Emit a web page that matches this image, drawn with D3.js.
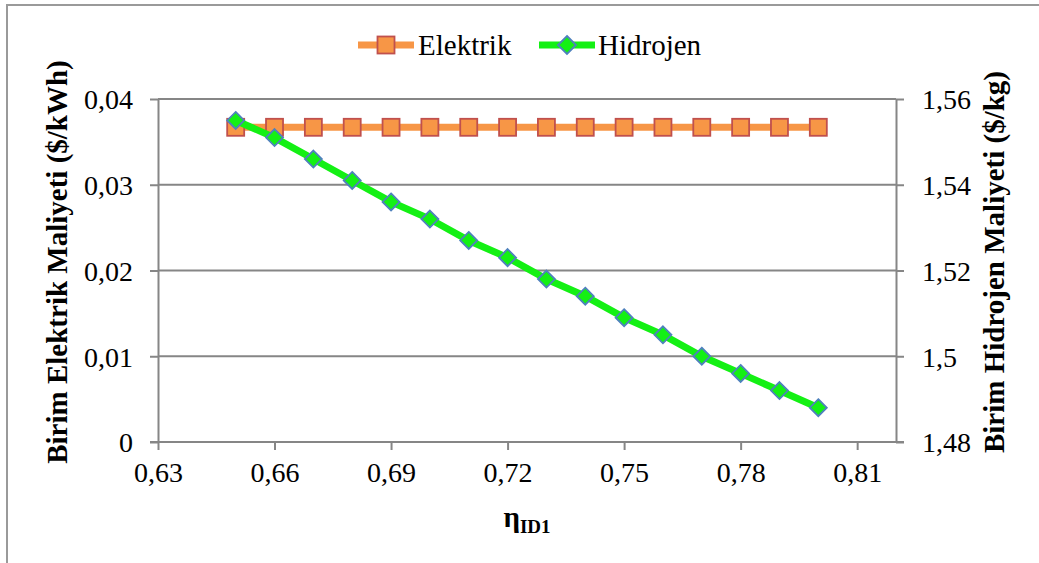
<!DOCTYPE html>
<html><head><meta charset="utf-8">
<script src="https://cdn.jsdelivr.net/npm/d3@7"></script>
<style>
body{margin:0;background:#fff;overflow:hidden}
svg text, svg tspan{font-family:"Liberation Serif" !important;}
</style>
</head><body>
<svg id="c" width="1039" height="563" style="font-family:'Liberation Serif'"></svg>
<script>
// ---- data ----
const xValues = [0.65,0.66,0.67,0.68,0.69,0.70,0.71,0.72,0.73,0.74,0.75,0.76,0.77,0.78,0.79,0.80];
const elektrik = [0.0367,0.0367,0.0367,0.0367,0.0367,0.0367,0.0367,0.0367,0.0367,0.0367,0.0367,0.0367,0.0367,0.0367,0.0367,0.0367];
const hidrojen = [1.555,1.551,1.546,1.541,1.536,1.532,1.527,1.523,1.518,1.514,1.509,1.505,1.500,1.496,1.492,1.488];
const xTicks = [0.63,0.66,0.69,0.72,0.75,0.78,0.81];
const yLeftTicks = [0,0.01,0.02,0.03,0.04];
const yRightTicks = [1.48,1.50,1.52,1.54,1.56];
const seriesNames = ["Elektrik","Hidrojen"];
const leftTitle = "Birim Elektrik Maliyeti ($/kWh)";
const rightTitle = "Birim Hidrojen Maliyeti ($/kg)";

// ---- setup ----
const svg = d3.select("#c");
const FONT = '"Liberation Serif"';
const gridCol = "#868686";
const loc = d3.formatLocale({decimal: ",", thousands: ".", grouping: [3], currency: ["", ""]});
const fmt = loc.format("~g");

const L = 158, R = 896, T = 99, B = 442;
const x = d3.scaleLinear().domain([0.63, 0.82]).range([L, R]);
const yL = d3.scaleLinear().domain([0, 0.04]).range([B, T]);
const yR = d3.scaleLinear().domain([1.48, 1.56]).range([B, T]);

// outer border
svg.append("rect").attr("x", 7).attr("y", 5).attr("width", 1200).attr("height", 800)
  .attr("fill", "#fff").attr("stroke", "#9a9a9a").attr("stroke-width", 2);

// gridlines
svg.append("g").selectAll("line").data(yLeftTicks.filter(d => d > 0)).join("line")
  .attr("x1", L).attr("x2", R).attr("y1", d => yL(d)).attr("y2", d => yL(d))
  .attr("stroke", gridCol).attr("stroke-width", 2);

function styleAxis(g) {
  g.attr("font-family", FONT).style("font-family", FONT);
  g.select(".domain").attr("stroke", gridCol).attr("stroke-width", 2);
  g.selectAll(".tick line").attr("stroke", gridCol).attr("stroke-width", 2);
  g.selectAll(".tick text").style("font-family", FONT).style("font-size", "28px").attr("fill", "#000");
}

// left axis
const gL = svg.append("g").attr("transform", `translate(${L},0)`)
  .call(d3.axisLeft(yL).tickValues(yLeftTicks).tickFormat(fmt).tickSize(8).tickSizeOuter(0).tickPadding(17));
styleAxis(gL);
gL.selectAll(".tick text").attr("dy", "0.35em");

// right axis
const gR = svg.append("g").attr("transform", `translate(${R},0)`)
  .call(d3.axisRight(yR).tickValues(yRightTicks).tickFormat(fmt).tickSize(8).tickSizeOuter(0).tickPadding(18));
styleAxis(gR);
gR.selectAll(".tick text").attr("dy", "0.35em");

// bottom axis
const gB = svg.append("g").attr("transform", `translate(0,${B})`)
  .call(d3.axisBottom(x).tickValues(xTicks).tickFormat(fmt).tickSize(8).tickSizeOuter(0).tickPadding(12));
styleAxis(gB);
gB.select(".domain").attr("d", `M${L - 8},0H${R + 8}`);
gB.selectAll(".tick text").attr("dy", "0.71em");

// axis titles
svg.append("text").attr("transform", `translate(57,262) rotate(-90)`)
  .attr("text-anchor", "middle").attr("dominant-baseline", "central")
  .style("font-family", FONT).style("font-weight", "bold").style("font-size", "29px").text(leftTitle);
svg.append("text").attr("transform", `translate(994,262) rotate(-90)`)
  .attr("text-anchor", "middle").attr("dominant-baseline", "central")
  .style("font-family", FONT).style("font-weight", "bold").style("font-size", "29px").text(rightTitle);

const xt = svg.append("text").attr("x", (L + R) / 2).attr("y", 527).attr("text-anchor", "middle")
  .style("font-family", FONT).style("font-weight", "bold").style("font-size", "29px");
xt.append("tspan").text("η");
xt.append("tspan").style("font-size", "19px").attr("dy", 6).text("ID1");

// series
const orange = "#F79646", orangeEdge = "#C0504D";
const green = "#14F014", greenEdge = "#4F81BD";
const dataE = xValues.map((v, i) => [v, elektrik[i]]);
const dataH = xValues.map((v, i) => [v, hidrojen[i]]);

svg.append("path").datum(dataE)
  .attr("d", d3.line().x(d => x(d[0])).y(d => yL(d[1])))
  .attr("fill", "none").attr("stroke", orange).attr("stroke-width", 7);
const sq = 17;
svg.append("g").selectAll("rect").data(dataE).join("rect")
  .attr("x", d => x(d[0]) - sq / 2).attr("y", d => yL(d[1]) - sq / 2)
  .attr("width", sq).attr("height", sq)
  .attr("fill", orange).attr("stroke", orangeEdge).attr("stroke-width", 1.8);

svg.append("path").datum(dataH)
  .attr("d", d3.line().x(d => x(d[0])).y(d => yR(d[1])))
  .attr("fill", "none").attr("stroke", green).attr("stroke-width", 7);
const dm = 8.5;
const diamond = (cx, cy, r) => `M${cx},${cy - r}L${cx + r},${cy}L${cx},${cy + r}L${cx - r},${cy}Z`;
svg.append("g").selectAll("path").data(dataH).join("path")
  .attr("d", d => diamond(x(d[0]), yR(d[1]), dm))
  .attr("fill", green).attr("stroke", greenEdge).attr("stroke-width", 1.8);

// legend
const lg = svg.append("g");
lg.append("line").attr("x1", 358).attr("x2", 414).attr("y1", 45).attr("y2", 45)
  .attr("stroke", orange).attr("stroke-width", 7);
lg.append("rect").attr("x", 386 - sq / 2).attr("y", 45 - sq / 2).attr("width", sq).attr("height", sq)
  .attr("fill", orange).attr("stroke", orangeEdge).attr("stroke-width", 1.8);
lg.append("text").attr("x", 418).attr("y", 55).style("font-family", FONT).style("font-size", "29px").text(seriesNames[0]);
lg.append("line").attr("x1", 539).attr("x2", 595).attr("y1", 45).attr("y2", 45)
  .attr("stroke", green).attr("stroke-width", 7);
lg.append("path").attr("d", diamond(567, 45, 9))
  .attr("fill", green).attr("stroke", greenEdge).attr("stroke-width", 1.8);
lg.append("text").attr("x", 598).attr("y", 55).style("font-family", FONT).style("font-size", "29px").text(seriesNames[1]);
</script>
</body></html>
